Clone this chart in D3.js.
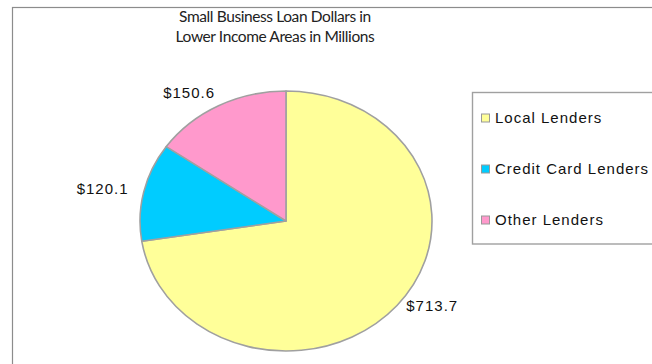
<!DOCTYPE html>
<html>
<head>
<meta charset="utf-8">
<script src="https://cdn.jsdelivr.net/npm/d3@7"></script>
<style>
  html, body { margin: 0; padding: 0; background: #fff; }
  svg { display: block; }
</style>
</head>
<body>
<svg id="chart" width="652" height="364"></svg>
<script>
// Loan dollars (millions) by lender type
const categories = ["Local Lenders", "Credit Card Lenders", "Other Lenders"];
const values = [713.7, 120.1, 150.6];
const colors = ["#FFFF99", "#00CCFF", "#FF99CC"];
const titleLines = ["Small Business Loan Dollars in", "Lower Income Areas in Millions"];

const svg = d3.select("#chart");

// outer chart frame (runs past the right and bottom edges)
svg.append("rect")
  .attr("x", 12.5).attr("y", 7.5)
  .attr("width", 700).attr("height", 420)
  .attr("fill", "#fff").attr("stroke", "#8c8c8c").attr("stroke-width", 1.2);

// title
svg.append("g").selectAll("text").data(titleLines).join("text")
  .attr("x", 275).attr("y", (d, i) => 22 + i * 19.5)
  .attr("text-anchor", "middle")
  .attr("font-family", "Lato, 'Open Sans', sans-serif")
  .attr("font-size", 15.5)
  .attr("letter-spacing", -0.4)
  .attr("fill", "#222")
  .text(d => d);

// pie: slightly wider than tall
const cx = 286, cy = 221, ry = 130, rx = 146;
const sx = rx / ry;

const pie = d3.pie().sort(null).value(d => d.value);
const arcs = pie(categories.map((c, i) => ({ name: c, value: values[i], color: colors[i] })));
const arc = d3.arc().innerRadius(0).outerRadius(ry);

const pieG = svg.append("g").attr("transform", `translate(${cx},${cy}) scale(${sx},1)`);
pieG.selectAll("path").data(arcs).join("path")
  .attr("d", arc)
  .attr("fill", d => d.data.color)
  .attr("stroke", "#a0a0a0")
  .attr("stroke-width", 1.6)
  .attr("vector-effect", "non-scaling-stroke")
  .attr("stroke-linejoin", "round");

// value labels just outside each slice
const labelFont = "Arial, 'Liberation Sans', sans-serif";
svg.append("g").selectAll("text").data(arcs).join("text")
  .each(function (d) {
    const a = (d.startAngle + d.endAngle) / 2;
    const s = Math.sin(a), c = Math.cos(a);
    const px = cx + rx * s, py = cy - ry * c;
    const x = px + 16 * s * Math.abs(s);
    const yc = py - (c > 0 ? 15 * c : 0);
    d3.select(this)
      .attr("x", x).attr("y", yc)
      .attr("dy", "0.36em")
      .attr("text-anchor", s >= 0 ? "start" : "end");
  })
  .attr("font-family", labelFont)
  .attr("font-size", 15)
  .attr("letter-spacing", 1)
  .attr("fill", "#111")
  .text(d => "$" + d3.format(".1f")(d.data.value));

// legend
const legend = svg.append("g");
legend.append("rect")
  .attr("x", 472.5).attr("y", 92.5)
  .attr("width", 220).attr("height", 151.5)
  .attr("fill", "#fff").attr("stroke", "#a0a0a0").attr("stroke-width", 1.4);

const rowY = d3.scalePoint().domain(categories).range([118, 220]);
const items = legend.selectAll("g.item").data(categories).join("g")
  .attr("class", "item")
  .attr("transform", d => `translate(481,${rowY(d)})`);
items.append("rect")
  .attr("x", 0.5).attr("y", -4)
  .attr("width", 8).attr("height", 8)
  .attr("fill", (d, i) => colors[i])
  .attr("stroke", "#999").attr("stroke-width", 1);
items.append("text")
  .attr("x", 14).attr("y", 0).attr("dy", "0.36em")
  .attr("font-family", labelFont)
  .attr("font-size", 15)
  .attr("letter-spacing", 1)
  .attr("fill", "#111")
  .text(d => d);
</script>
</body>
</html>
